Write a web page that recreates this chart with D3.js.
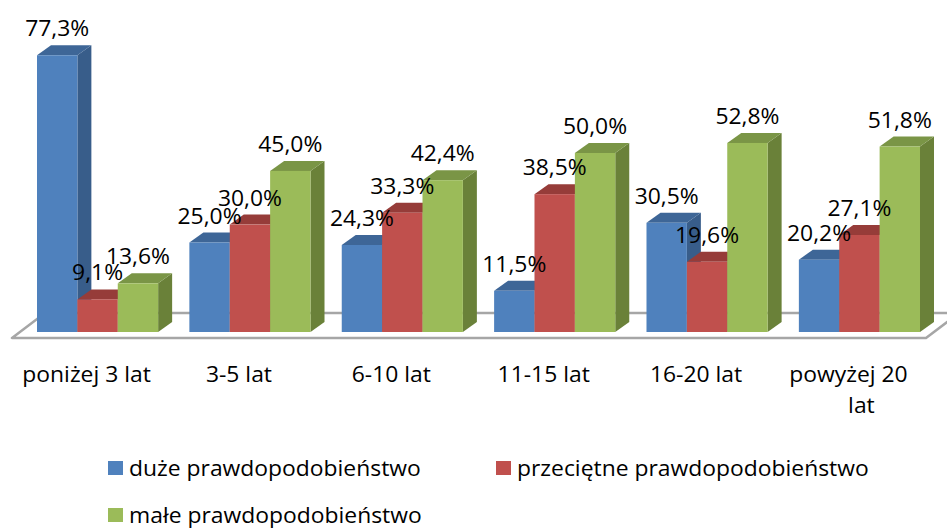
<!DOCTYPE html>
<html>
<head>
<meta charset="utf-8">
<script src="https://cdn.jsdelivr.net/npm/d3@7"></script>
<style>
  html, body { margin: 0; padding: 0; background: #fff; }
  svg { display: block; }
  text { font-family: "Open Sans", sans-serif; font-size: 21px; fill: #000; }
</style>
</head>
<body>
<svg id="chart" width="947" height="528"></svg>
<script>
// ---- data ----
const categories = ["poniżej 3 lat", "3-5 lat", "6-10 lat", "11-15 lat", "16-20 lat", "powyżej 20 lat"];
const seriesNames = ["duże prawdopodobieństwo", "przeciętne prawdopodobieństwo", "małe prawdopodobieństwo"];
const duze = [77.3, 25.0, 24.3, 11.5, 30.5, 20.2];
const przecietne = [9.1, 30.0, 33.3, 38.5, 19.6, 27.1];
const male = [13.6, 45.0, 42.4, 50.0, 52.8, 51.8];
const seriesValues = [duze, przecietne, male];

// ---- styles ----
const frontColors = ["#4F81BD", "#C0504D", "#9BBB59"];
const topColors   = ["#3E6697", "#963C39", "#7A9546"];
const sideColors  = ["#385D8A", "#8A3735", "#6A8139"];
const SX = 1.09; // horizontal text stretch

const svg = d3.select("#chart");

const x0 = d3.scaleBand().domain(categories).range([37, 920]).paddingInner(0.205).paddingOuter(0);
const x1 = d3.scaleBand().domain(seriesNames).range([0, x0.bandwidth()]).padding(0);
const y = d3.scaleLinear().domain([0, 100]).range([332, -26]);

const DX = 14, DY = 10;         // bar depth
const FDX = 33, FDY = 25;       // floor depth
const yFront = y(0) + 6;

// floor
const fx0 = x0.range()[0] - 25, fx1 = x0.range()[1] + 6;
svg.append("polygon")
  .attr("points", [[fx0, yFront], [fx1, yFront], [fx1 + FDX, yFront - FDY], [fx0 + FDX, yFront - FDY]].map(p => p.join(",")).join(" "))
  .attr("fill", "#fff")
  .attr("stroke", "#A6A6A6")
  .attr("stroke-width", 2.5)
  .attr("stroke-linejoin", "round");

const fmt = v => d3.format(".1f")(v).replace(".", ",") + "%";

// bars
const data = [];
categories.forEach((c, i) => {
  seriesNames.forEach((s, j) => {
    data.push({ c, s, j, v: seriesValues[j][i] });
  });
});

const bars = svg.append("g").selectAll("g").data(data).join("g");
bars.each(function(d) {
  const g = d3.select(this);
  const xl = x0(d.c) + x1(d.s), xr = xl + x1.bandwidth();
  const yt = y(d.v), yb = y(0);
  // side
  g.append("polygon")
    .attr("points", [[xr, yb], [xr + DX, yb - DY], [xr + DX, yt - DY], [xr, yt]].map(p => p.join(",")).join(" "))
    .attr("fill", sideColors[d.j]);
  // top
  g.append("polygon")
    .attr("points", [[xl, yt], [xr, yt], [xr + DX, yt - DY], [xl + DX, yt - DY]].map(p => p.join(",")).join(" "))
    .attr("fill", topColors[d.j]);
  // front
  g.append("rect")
    .attr("x", xl).attr("y", yt)
    .attr("width", x1.bandwidth()).attr("height", yb - yt)
    .attr("fill", frontColors[d.j]);
});

// value labels
svg.append("g").selectAll("text").data(data).join("text")
  .attr("text-anchor", "middle")
  .attr("transform", d => `translate(${x0(d.c) + x1(d.s) + x1.bandwidth() / 2},${y(d.v) - 19}) scale(${SX},1)`)
  .text(d => fmt(d.v));

// category labels
const categoryLines = categories.map(c => c === "powyżej 20 lat" ? ["powyżej 20", "lat"] : [c]);
categories.forEach((c, i) => {
  const cx = x0(c) + x0.bandwidth() / 2 - 11;
  categoryLines[i].forEach((line, k) => {
    svg.append("text")
      .attr("text-anchor", "middle")
      .attr("transform", `translate(${cx + (k ? 13 : 0)},${382 + k * 31}) scale(${SX},1)`)
      .text(line);
  });
});

// legend
const legendPos = [[108, 476], [496, 476], [108, 523]];
seriesNames.forEach((s, j) => {
  const [lx, ly] = legendPos[j];
  svg.append("rect")
    .attr("x", lx).attr("y", ly - 15)
    .attr("width", 15).attr("height", 14)
    .attr("fill", frontColors[j]);
  svg.append("text")
    .attr("transform", `translate(${lx + 21},${ly}) scale(${SX},1)`)
    .text(s);
});
</script>
</body>
</html>
